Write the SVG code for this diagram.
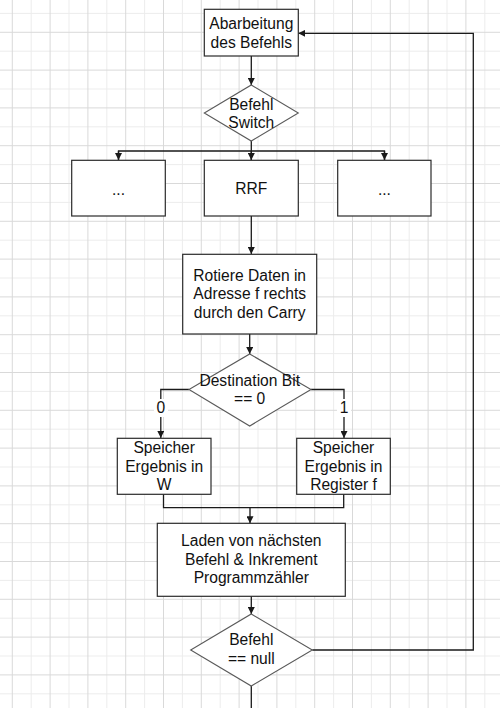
<svg xmlns="http://www.w3.org/2000/svg" width="500" height="708" viewBox="0 0 500 708">
<style>
.box{fill:#fff;stroke:#2b2b2b;stroke-width:1.2}
.dia{fill:#fff;stroke:#5a5a5a;stroke-width:1.1}
.con{fill:none;stroke:#1a1a1a;stroke-width:1.3}
text{font-family:"Liberation Sans",Arial,sans-serif;font-size:15.6px;fill:#111;text-anchor:middle}
</style>
<defs>
<pattern id="grid" x="11.8" y="31.8" width="37.8" height="37.8" patternUnits="userSpaceOnUse">
<rect x="18.9" y="0" width="1" height="37.8" fill="#ececec"/>
<rect x="0" y="18.9" width="37.8" height="1" fill="#ececec"/>
<rect x="0" y="0" width="1" height="37.8" fill="#d9d9d9"/>
<rect x="0" y="0" width="37.8" height="1" fill="#d9d9d9"/>
</pattern>
<marker id="arr" viewBox="0 0 10 10" refX="10" refY="5" markerWidth="7" markerHeight="7" markerUnits="userSpaceOnUse" orient="auto">
<path d="M0,0 L10,5 L0,10 z" fill="#1a1a1a"/>
</marker>
</defs>
<rect width="500" height="708" fill="#fff"/>
<rect width="500" height="708" fill="url(#grid)"/>
<g id="connectors">
<path class="con" d="M251.3,56 V85" marker-end="url(#arr)"/>
<path class="con" d="M251.3,141 V160"/>
<path class="con" d="M118.5,160 V151 H384.5 V160" />
<path class="con" d="M118.5,151 V160" marker-end="url(#arr)"/>
<path class="con" d="M251.3,151 V160" marker-end="url(#arr)"/>
<path class="con" d="M384.5,151 V160" marker-end="url(#arr)"/>
<path class="con" d="M251.3,216 V254" marker-end="url(#arr)"/>
<path class="con" d="M249.7,334 V354" marker-end="url(#arr)"/>
<path class="con" d="M189,389.5 H160.8 V438" marker-end="url(#arr)"/>
<path class="con" d="M311,389.5 H344 V438" marker-end="url(#arr)"/>
<path class="con" d="M163.5,494 V507.7 H343.7 V494"/>
<path class="con" d="M250,507.7 V523.3" marker-end="url(#arr)"/>
<path class="con" d="M251.3,596 V614" marker-end="url(#arr)"/>
<path class="con" d="M312.3,650 H473.3 V33.3 H298.3" marker-end="url(#arr)"/>
<path class="con" d="M251.3,686 V708"/>
<rect x="154" y="399" width="14" height="18" fill="#fff"/>
<rect x="337" y="399" width="14" height="18" fill="#fff"/>
<text x="160.8" y="413.3">0</text>
<text x="344" y="413.3">1</text>
</g>
<g id="n1"><rect class="box" x="204.3" y="9.3" width="94" height="46.7"/><text x="251.3" y="29.3">Abarbeitung</text><text x="251.3" y="47.7">des Befehls</text></g>
<g id="n2"><path class="dia" d="M251.3,85 L298.3,113 L251.3,141 L204.3,113 z"/><text x="251.3" y="110">Befehl</text><text x="251.3" y="128.3">Switch</text></g>
<g id="n3"><rect class="box" x="71.7" y="160.3" width="93.6" height="55.7"/><text x="118.5" y="195">...</text></g>
<g id="n4"><rect class="box" x="204.3" y="160.3" width="94" height="55.7"/><text x="251.3" y="194.3">RRF</text></g>
<g id="n5"><rect class="box" x="337.7" y="160.3" width="93.3" height="55.7"/><text x="384.4" y="195">...</text></g>
<g id="n6"><rect class="box" x="182.7" y="254.3" width="134" height="79.7"/><text x="249.7" y="280.7">Rotiere Daten in</text><text x="249.7" y="299">Adresse f rechts</text><text x="249.7" y="317.7">durch den Carry</text></g>
<g id="n7"><path class="dia" d="M249.7,354 L311,389.5 L249.7,426 L189,389.5 z"/><text x="249.7" y="386">Destination Bit</text><text x="249.7" y="404.3">== 0</text></g>
<g id="n8"><rect class="box" x="117.3" y="438.3" width="93.7" height="56"/><text x="164.2" y="453.3">Speicher</text><text x="164.2" y="471.7">Ergebnis in</text><text x="164.2" y="490">W</text></g>
<g id="n9"><rect class="box" x="296.7" y="438.3" width="93.6" height="56"/><text x="343.5" y="453.3">Speicher</text><text x="343.5" y="471.7">Ergebnis in</text><text x="343.5" y="490">Register f</text></g>
<g id="n10"><rect class="box" x="157.3" y="523.3" width="188" height="73"/><text x="251.3" y="546">Laden von nächsten</text><text x="251.3" y="564.7">Befehl &amp; Inkrement</text><text x="251.3" y="583.3">Programmzähler</text></g>
<g id="n11"><path class="dia" d="M251.3,614 L312.3,650 L251.3,686 L190.7,650 z"/><text x="251.3" y="645.3">Befehl</text><text x="251.3" y="664">== null</text></g>
</svg>
